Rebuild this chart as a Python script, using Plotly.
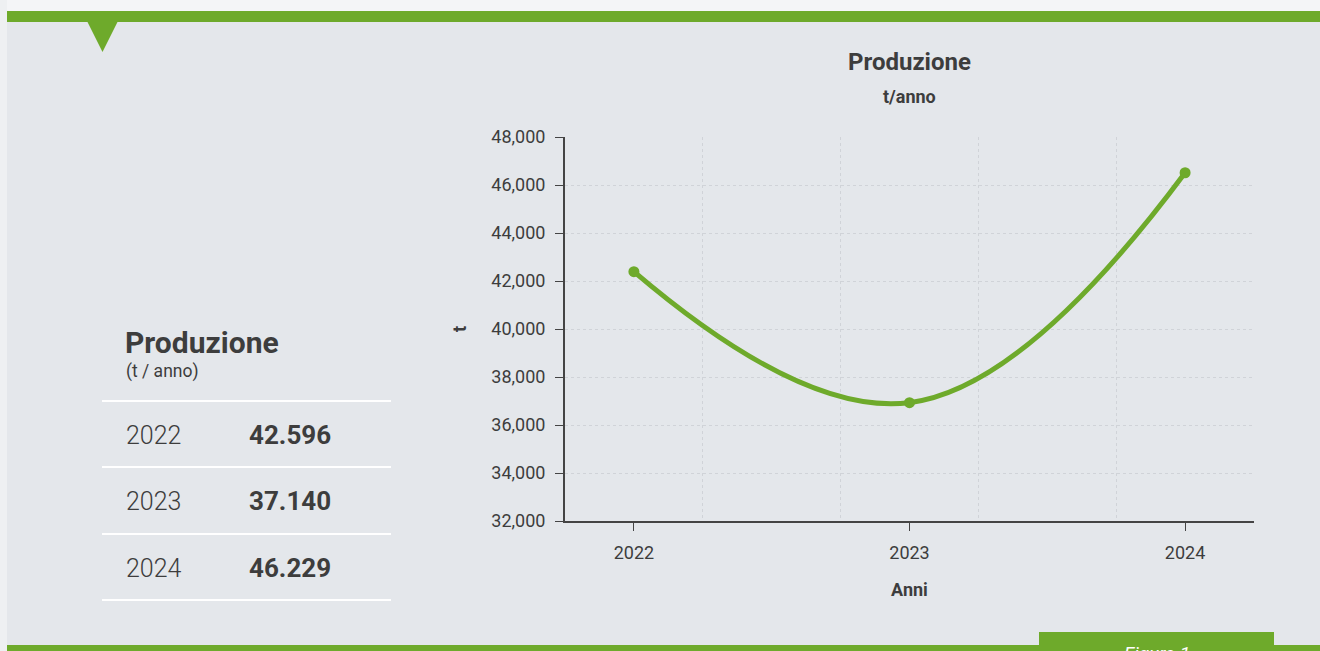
import plotly.graph_objects as go

# ---- data ----
years = [2022, 2023, 2024]
production_chart = [42390, 36930, 46510]          # values as plotted on the chart (t)
table_years = ["2022", "2023", "2024"]
table_values = ["42.596", "37.140", "46.229"]     # values as printed in the side table
y_ticks = [32000, 34000, 36000, 38000, 40000, 42000, 44000, 46000, 48000]

GREEN = "#6eaa2b"
PANEL = "#e4e7eb"
OUTER = "#f4f5f7"
SIDE = "#eef0f2"
TEXT = "#3d3d3d"

W, H = 1320, 651
L, R, T, B = 565, 1254, 137, 521   # plot area in page pixels


def px(x):
    return (x - L) / (R - L)


def py(y):
    return (B - y) / (B - T)


fig = go.Figure()
fig.add_trace(go.Scatter(
    x=years, y=production_chart, mode="lines+markers",
    line=dict(color=GREEN, width=5, shape="spline", smoothing=1.2),
    marker=dict(color=GREEN, size=11),
    hoverinfo="x+y", showlegend=False,
))

shapes = [
    # left page strip
    dict(type="rect", xref="paper", yref="paper", x0=px(-5), x1=px(7), y0=py(680), y1=py(-5),
         fillcolor=SIDE, line=dict(width=0), layer="below"),
    # panel background
    dict(type="rect", xref="paper", yref="paper", x0=px(7), x1=px(1340), y0=py(680), y1=py(11),
         fillcolor=PANEL, line=dict(width=0), layer="below"),
    # top green bar
    dict(type="rect", xref="paper", yref="paper", x0=px(7), x1=px(1340), y0=py(22), y1=py(11),
         fillcolor=GREEN, line=dict(width=0), layer="above"),
    # triangle
    dict(type="path", xref="paper", yref="paper",
         path=f"M {px(87)},{py(21)} L {px(118)},{py(21)} L {px(102.5)},{py(52)} Z",
         fillcolor=GREEN, line=dict(width=0), layer="above"),
    # bottom green bar
    dict(type="rect", xref="paper", yref="paper", x0=px(7), x1=px(1340), y0=py(680), y1=py(645),
         fillcolor=GREEN, line=dict(width=0), layer="above"),
    # figure tab
    dict(type="rect", xref="paper", yref="paper", x0=px(1039), x1=px(1274), y0=py(680), y1=py(632),
         fillcolor=GREEN, line=dict(width=0), layer="above"),
]
# table separators
for yy in [401, 467, 534, 600]:
    shapes.append(dict(type="line", xref="paper", yref="paper", x0=px(102), x1=px(391), y0=py(yy), y1=py(yy),
                       line=dict(color="#ffffff", width=2), layer="above"))

annotations = [
    dict(text="<b>Produzione</b>", xref="paper", yref="paper", x=px(123), y=py(342), xanchor="left",
         yanchor="middle", showarrow=False, font=dict(family="Roboto", size=30, color=TEXT)),
    dict(text="(t / anno)", xref="paper", yref="paper", x=px(124), y=py(371), xanchor="left",
         yanchor="middle", showarrow=False, font=dict(family="Roboto", size=17.5, color=TEXT)),
    dict(text="<i>Figura 1</i>", xref="paper", yref="paper", x=px(1157), y=py(653), xanchor="center",
         yanchor="middle", showarrow=False, font=dict(family="Roboto", size=19, color="#ffffff")),
    dict(text="<b>Produzione</b>", xref="paper", yref="paper", x=0.5, y=py(62), xanchor="center",
         yanchor="middle", showarrow=False, font=dict(family="Roboto", size=24, color=TEXT)),
    dict(text="<b>t/anno</b>", xref="paper", yref="paper", x=0.5, y=py(97), xanchor="center",
         yanchor="middle", showarrow=False, font=dict(family="Roboto", size=18, color=TEXT)),
]
row_y = [435, 501, 568]
for yr, val, yy in zip(table_years, table_values, row_y):
    annotations.append(dict(text=yr, xref="paper", yref="paper", x=px(124), y=py(yy), xanchor="left",
                            yanchor="middle", showarrow=False,
                            font=dict(family="Roboto", size=25, color=TEXT, weight=300)))
    annotations.append(dict(text=f"<b>{val}</b>", xref="paper", yref="paper", x=px(247), y=py(yy),
                            xanchor="left", yanchor="middle", showarrow=False,
                            font=dict(family="Roboto", size=26, color=TEXT)))

fig.update_layout(
    width=W, height=H,
    margin=dict(l=L, r=W - R, t=T, b=H - B, pad=0),
    paper_bgcolor=OUTER, plot_bgcolor=PANEL,
    font=dict(family="Roboto", color=TEXT),
    shapes=shapes, annotations=annotations,
    xaxis=dict(
        range=[2021.75, 2024.25], tickvals=years, ticktext=[str(y) for y in years],
        showgrid=False, zeroline=False,
        showline=True, linecolor="#444444", linewidth=2,
        ticks="outside", ticklen=8, tickcolor="#444444", tickwidth=1,
        tickfont=dict(size=18, color=TEXT), ticklabelstandoff=6,
        minor=dict(tick0=2021.75, dtick=0.5, showgrid=True, gridcolor="#d0d3d8",
                   griddash="dot", gridwidth=1, ticklen=0),
        title=dict(text="<b>Anni</b>", font=dict(size=18, color=TEXT), standoff=22),
    ),
    yaxis=dict(
        range=[32000, 48000], tickvals=y_ticks, tickformat=",",
        showgrid=True, gridcolor="#d0d3d8", griddash="dot", gridwidth=1, zeroline=False,
        showline=True, linecolor="#444444", linewidth=2,
        ticks="outside", ticklen=8, tickcolor="#444444", tickwidth=1,
        tickfont=dict(size=18, color=TEXT), ticklabelstandoff=6,
        title=dict(text="<b>t</b>", font=dict(size=18, color=TEXT), standoff=20),
    ),
)

page_js = (
    "document.documentElement.style.overflow='hidden';"
    "document.body.style.overflow='hidden';"
    "document.body.style.margin='0';"
)
fig.write_html("out.html", post_script=page_js, config={"displayModeBar": False})
